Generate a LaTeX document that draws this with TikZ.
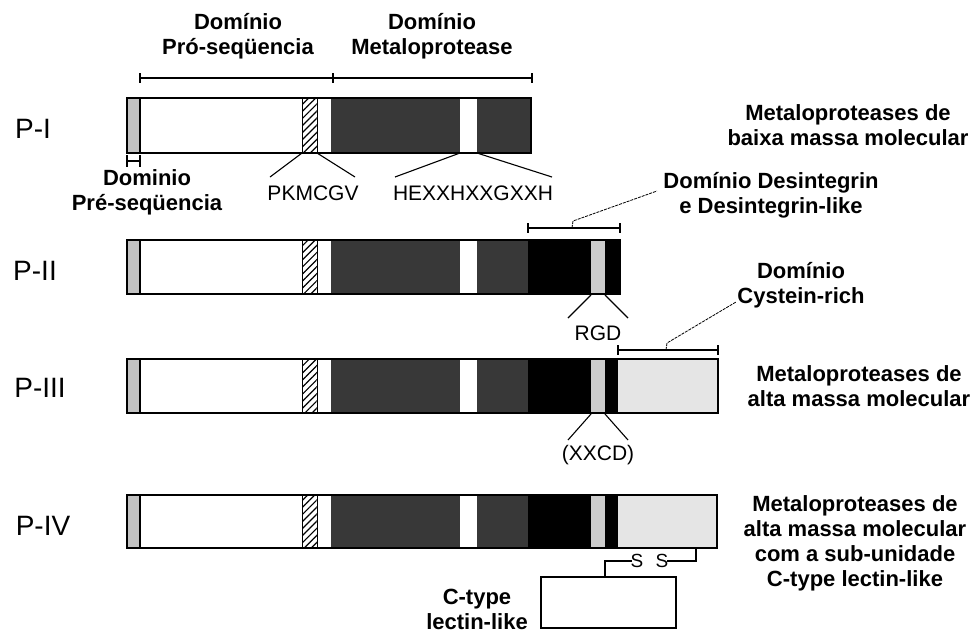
\documentclass[tikz,border=0pt]{standalone}
\usepackage{fontspec}
\setmainfont{Liberation Sans}
\usetikzlibrary{patterns.meta}
\definecolor{stip}{gray}{0.22}
\definecolor{pregray}{gray}{0.76}
\definecolor{rgdgray}{gray}{0.80}
\definecolor{cysgray}{gray}{0.90}
\begin{document}
\begin{tikzpicture}[x=1pt, y=-1pt, line width=1.1pt,
  lab/.style={font=\bfseries\fontsize{22}{25}\selectfont, align=center, inner sep=0pt},
  seq/.style={font=\fontsize{21}{24}\selectfont, inner sep=0pt},
  cls/.style={font=\fontsize{28}{30}\selectfont, inner sep=0pt},
  lead/.style={line width=0.8pt, dash pattern=on 3pt off 1pt}]
\useasboundingbox (0,0) rectangle (975,633);

% common part of the four chains: row/top/bottom/end of the metalloprotease
\foreach \r/\t/\b/\d in {1/98/153/531, 2/240/294/528, 3/359/413/528, 4/495/548/528}{
  \fill[pregray] (127,\t) rectangle (140,\b);
  \fill[pattern={Lines[angle=45,distance=5pt,line width=1.2pt]}] (302,\t) rectangle (317,\b);
  \draw[line width=0.6pt] (302,\t) rectangle (317,\b);
  \fill[stip] (331,\t) rectangle (460,\b);
  \fill[stip] (477,\t) rectangle (\d,\b);
  \draw (140,\t) -- (140,\b);
}
% desintegrin and cystein-rich parts
\fill[black] (528,240) rectangle (620,294);
\fill[rgdgray] (591,240) rectangle (605,294);
\fill[black] (528,359) rectangle (618,413);
\fill[rgdgray] (591,359) rectangle (605,413);
\fill[cysgray] (618,359) rectangle (718,413);
\fill[black] (528,495) rectangle (618,548);
\fill[rgdgray] (591,495) rectangle (605,548);
\fill[cysgray] (618,495) rectangle (717,548);
\foreach \t/\b/\e in {98/153/531, 240/294/620, 359/413/718, 495/548/717}
  \draw[line width=1.3pt] (127,\t) rectangle (\e,\b);

\node[cls] (p1) at (33,129) {P-I};
\node[cls] (p2) at (35,271) {P-II};
\node[cls] (p3) at (40,388) {P-III};
\node[cls] (p4) at (43,526) {P-IV};

% domains over P-I
\node[lab] (pro) at (238,36) {Domínio\\Pró-seqüencia};
\node[lab] (met) at (432,36) {Domínio\\Metaloprotease};
\draw (140,78) -- (532,78);
\foreach \x in {140,333,532} \draw (\x,73) -- (\x,83);
\draw (127,155) -- (127,167) (140,155) -- (140,167) (127,161) -- (140,161);
\node[lab] (pre) at (147,192) {Dominio\\Pré-seqüencia};

\node[seq] (pk) at (313,193) {PKMCGV};
\node[seq] (hx) at (473,193) {HEXXHXXGXXH};
\coordinate (pkl) at (270,177); \coordinate (pkr) at (355,177);
\coordinate (hxl) at (395,177); \coordinate (hxr) at (552,177);
\draw (302,153) -- (pkl) (317,153) -- (pkr);
\draw (460,153) -- (hxl) (477,153) -- (hxr);

\node[lab] (r1) at (848,125) {Metaloproteases de\\baixa massa molecular};

% P-II
\draw (528,228) -- (620,228) (528,223) -- (528,233) (620,223) -- (620,233);
\node[lab] (des) at (771,195) {Domínio Desintegrin\\e Desintegrin-like};
\coordinate (desend) at (657,191);
\draw[lead] (572,228) -- (573,221) -- (desend);
\node[seq] (rgd) at (598,333) {RGD};
\draw (591,295) -- (568,318) (605,295) -- (628,318);

% P-III
\draw (618,350) -- (718,350) (618,345) -- (618,355) (718,345) -- (718,355);
\node[lab] (cys) at (801,285) {Domínio\\Cystein-rich};
\coordinate (cysend) at (736,302);
\draw[lead] (666,350) -- (667,343) -- (cysend);
\node[seq] (xxcd) at (598,455) {(XXCD)};
\draw (591,414) -- (568,440) (605,414) -- (628,440);
\node[lab] (r3) at (859,386) {Metaloproteases de\\alta massa molecular};

% P-IV
\node[lab] (r4) at (855,543) {Metaloproteases de\\alta massa molecular\\com a sub-unidade\\C-type lectin-like};
\node[draw, minimum width=135pt, minimum height=51pt, inner sep=0pt] (ctl) at (608.5,602.5) {};
\node[seq, font=\fontsize{19}{22}\selectfont] (s1) at (637,561) {S};
\node[seq, font=\fontsize{19}{22}\selectfont] (s2) at (662,561) {S};
\coordinate (ss) at (696,548);
\draw (ss) |- ([xshift=-2pt]s2.east);
\draw ([xshift=2pt]s1.west) -- (605,561) -- (605,577);
\node[lab] (lec) at (477,609) {C-type\\lectin-like};
\end{tikzpicture}
\end{document}
